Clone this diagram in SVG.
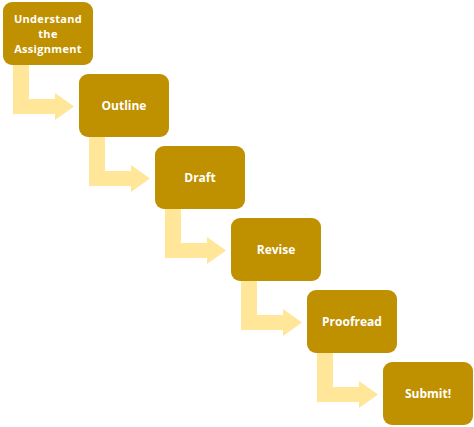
<svg xmlns="http://www.w3.org/2000/svg" xmlns:xlink="http://www.w3.org/1999/xlink" width="474" height="427" viewBox="0 0 474 427">
<style>
.box{fill:#BF9000;}
.arr{fill:#FFE699;}
.lbl{font-family:"Open Sans","Liberation Sans",sans-serif;font-weight:bold;font-size:12px;fill:#FFFFFF;text-anchor:middle;dominant-baseline:central;}
.sm{font-size:11px;letter-spacing:0.3px;}
</style>
<defs>
<path id="bent" class="arr" d="M10,63 L26,63 L26,97 L52,97 L52,91 L71,104.5 L52,118 L52,112 L10,112 Z"/>
</defs>
<rect width="474" height="427" fill="#FFFFFF"/>
<g id="connectors">
<use xlink:href="#bent" transform="translate(3,2)"/>
<use xlink:href="#bent" transform="translate(79,74)"/>
<use xlink:href="#bent" transform="translate(155,146)"/>
<use xlink:href="#bent" transform="translate(231,218)"/>
<use xlink:href="#bent" transform="translate(307,290)"/>
</g>
<g id="n1"><rect class="box" x="3" y="2" width="90" height="63" rx="9"/>
<text class="lbl sm" x="48" y="18">Understand</text><text class="lbl sm" x="48" y="33">the</text><text class="lbl sm" x="48" y="48">Assignment</text></g>
<g id="n2"><rect class="box" x="79" y="74" width="90" height="63" rx="9"/><text class="lbl" x="124" y="105.5">Outline</text></g>
<g id="n3"><rect class="box" x="155" y="146" width="90" height="63" rx="9"/><text class="lbl" x="200" y="177.5">Draft</text></g>
<g id="n4"><rect class="box" x="231" y="218" width="90" height="63" rx="9"/><text class="lbl" x="276" y="249.5">Revise</text></g>
<g id="n5"><rect class="box" x="307" y="290" width="90" height="63" rx="9"/><text class="lbl" x="352" y="321.5">Proofread</text></g>
<g id="n6"><rect class="box" x="383" y="362" width="90" height="63" rx="9"/><text class="lbl" x="428" y="393.5">Submit!</text></g>
</svg>
